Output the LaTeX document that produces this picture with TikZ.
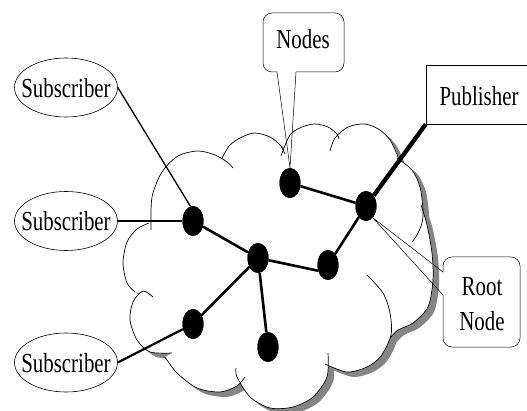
\documentclass[tikz,border=0pt]{standalone}
\usepackage{graphicx}
\usepackage{fontspec}
\setmainfont{Liberation Serif}
\usetikzlibrary{shapes.geometric}
\definecolor{shadowgray}{gray}{0.52}
\newcommand{\lbl}[1]{\scalebox{0.76}[1]{#1}}
\begin{document}
\begin{tikzpicture}[x=1pt,y=-1pt,
  cloudline/.style={line width=0.7pt, black},
  dot/.style={ellipse, fill=black, minimum width=21pt, minimum height=30pt, inner sep=0pt},
  subell/.style={ellipse, draw, line width=0.6pt, minimum width=103pt, minimum height=59pt, inner sep=0pt},
  lbltext/.style={font=\fontsize{27.5}{35}\selectfont, inner sep=0pt, align=center},
  boxline/.style={draw, line width=0.6pt},
  callout/.style={line width=0.5pt, black},
  edge/.style={line width=2.6pt},
  subedge/.style={line width=2.2pt},
  thinedge/.style={line width=1.3pt},
  pubedge/.style={line width=4.3pt}]
\useasboundingbox (0,0) rectangle (527,411);

% cloud shadow
\begin{scope}[shift={(6,5)}]
\fill[shadowgray] plot[smooth] coordinates {(151,230) (152,197) (162,172) (178,156) (198,151) (215,155) (227,162) (233,168)}
 -- plot[smooth] coordinates {(222,158) (230,145) (242,137) (255,133) (270,137) (280,145) (285,154)}
 -- plot[smooth] coordinates {(281,156) (290,135) (302,127) (315,124) (328,127) (337,134) (339,139)}
 -- plot[smooth] coordinates {(330,151) (335,138) (348,127) (365,124) (380,130) (390,140) (396,152) (399,160)}
 -- plot[smooth] coordinates {(397,158) (412,170) (420,187) (423,210) (422,223) (417,235) (412,242)}
 -- plot[smooth] coordinates {(421,205) (427,225) (432,253) (433,280) (428,307) (413,323) (398,330) (390,338)}
 -- plot[smooth] coordinates {(367,275) (383,293) (390,313) (391,335) (381,356) (367,367) (347,372) (325,364)}
 -- plot[smooth] coordinates {(328,353) (327,377) (313,397) (293,407) (270,408) (250,397) (237,377) (236,368)}
 -- plot[smooth] coordinates {(245,377) (237,386) (220,392) (197,388) (177,373) (165,357)}
 -- plot[smooth] coordinates {(172,353) (150,352) (137,340) (130,320) (133,302) (143,291) (153,297)}
 -- plot[smooth] coordinates {(135,292) (127,283) (123,263) (127,242) (137,229) (149,223)}
 -- cycle;
\end{scope}
% cloud body
\fill[white] plot[smooth] coordinates {(151,230) (152,197) (162,172) (178,156) (198,151) (215,155) (227,162) (233,168)}
 -- plot[smooth] coordinates {(222,158) (230,145) (242,137) (255,133) (270,137) (280,145) (285,154)}
 -- plot[smooth] coordinates {(281,156) (290,135) (302,127) (315,124) (328,127) (337,134) (339,139)}
 -- plot[smooth] coordinates {(330,151) (335,138) (348,127) (365,124) (380,130) (390,140) (396,152) (399,160)}
 -- plot[smooth] coordinates {(397,158) (412,170) (420,187) (423,210) (422,223) (417,235) (412,242)}
 -- plot[smooth] coordinates {(421,205) (427,225) (432,253) (433,280) (428,307) (413,323) (398,330) (390,338)}
 -- plot[smooth] coordinates {(367,275) (383,293) (390,313) (391,335) (381,356) (367,367) (347,372) (325,364)}
 -- plot[smooth] coordinates {(328,353) (327,377) (313,397) (293,407) (270,408) (250,397) (237,377) (236,368)}
 -- plot[smooth] coordinates {(245,377) (237,386) (220,392) (197,388) (177,373) (165,357)}
 -- plot[smooth] coordinates {(172,353) (150,352) (137,340) (130,320) (133,302) (143,291) (153,297)}
 -- plot[smooth] coordinates {(135,292) (127,283) (123,263) (127,242) (137,229) (149,223)}
 -- cycle;
% cloud outline bumps
\draw[cloudline] plot[smooth] coordinates {(151,230) (152,197) (162,172) (178,156) (198,151) (215,155) (227,162) (233,168)};
\draw[cloudline] plot[smooth] coordinates {(222,158) (230,145) (242,137) (255,133) (270,137) (280,145) (285,154)};
\draw[cloudline] plot[smooth] coordinates {(281,156) (290,135) (302,127) (315,124) (328,127) (337,134) (339,139)};
\draw[cloudline] plot[smooth] coordinates {(330,151) (335,138) (348,127) (365,124) (380,130) (390,140) (396,152) (399,160)};
\draw[cloudline] plot[smooth] coordinates {(397,158) (412,170) (420,187) (423,210) (422,223) (417,235) (412,242)};
\draw[cloudline] plot[smooth] coordinates {(421,205) (427,225) (432,253) (433,280) (428,307) (413,323) (398,330) (390,338)};
\draw[cloudline] plot[smooth] coordinates {(367,275) (383,293) (390,313) (391,335) (381,356) (367,367) (347,372) (325,364)};
\draw[cloudline] plot[smooth] coordinates {(328,353) (327,377) (313,397) (293,407) (270,408) (250,397) (237,377) (236,368)};
\draw[cloudline] plot[smooth] coordinates {(245,377) (237,386) (220,392) (197,388) (177,373) (165,357)};
\draw[cloudline] plot[smooth] coordinates {(172,353) (150,352) (137,340) (130,320) (133,302) (143,291) (153,297)};
\draw[cloudline] plot[smooth] coordinates {(135,292) (127,283) (123,263) (127,242) (137,229) (149,223)};

% subscribers
\node[subell] (s1) at (66,87.5) {};
\node[lbltext] (s1t) at (66,88) {\lbl{Subscriber}};
\node[subell] (s2) at (66,221) {};
\node[lbltext] (s2t) at (66,221) {\lbl{Subscriber}};
\node[subell] (s3) at (66,362.5) {};
\node[lbltext] (s3t) at (66,363) {\lbl{Subscriber}};

% publisher
\node[boxline, minimum width=110pt, minimum height=59pt, inner sep=0pt] (pub) at (481,94.5) {};
\node[lbltext] (pubt) at (479,96) {\lbl{Publisher}};

% network nodes
\node[dot] (n1) at (290,183) {};
\node[dot] (r) at (366,206) {};
\node[dot] (a) at (193,221) {};
\node[dot] (c) at (258,258) {};
\node[dot] (d) at (328,265) {};
\node[dot] (e) at (193,324) {};
\node[dot] (f) at (268,347) {};

% callouts
\node[lbltext] (nodest) at (303,39) {\lbl{Nodes}};
\draw[callout] (n1.north) -- (296,72) [rounded corners=9pt] -- (344,72) -- (344,13) -- (263,13) -- (263,72) [sharp corners] -- (277,72) -- cycle;
\node[lbltext] (roott) at (482,304) {\lbl{Root}\\\lbl{Node}};
\draw[callout] (r.-60) -- (443,272) [rounded corners=9pt] -- (443,257) -- (520,257) -- (520,347) -- (443,347) [sharp corners] -- (443,295) -- cycle;

% connectors
\draw[thinedge] (s1.east) -- (a.100);
\draw[subedge] (s2.east) -- (a);
\draw[subedge] (s3.east) -- (e);
\draw[edge] (a) -- (c);
\draw[edge] (c) -- (d.210);
\draw[edge] (d) -- (r);
\draw[edge] (n1) -- (r);
\draw[edge] (c) -- (e);
\draw[edge] (c) -- (f);
\draw[pubedge] (r) -- (pub.south west);

% redraw dots above the connectors
\node[dot] (n1b) at (n1) {};
\node[dot] (rb) at (r) {};
\node[dot] (ab) at (a) {};
\node[dot] (cb) at (c) {};
\node[dot] (db) at (d) {};
\node[dot] (eb) at (e) {};
\node[dot] (fb) at (f) {};
\end{tikzpicture}
\end{document}
